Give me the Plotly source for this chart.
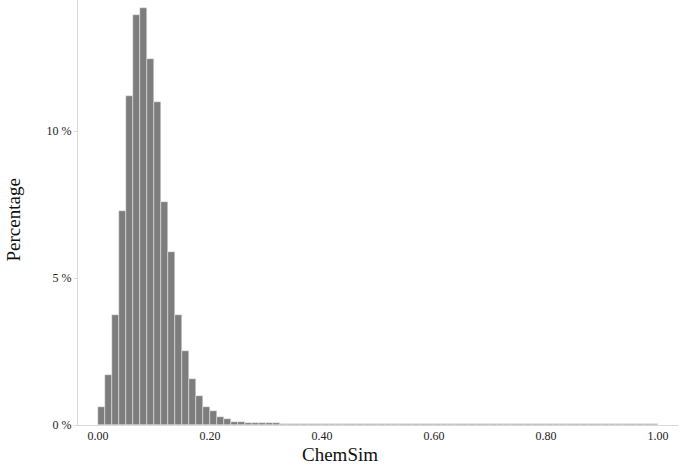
import plotly.graph_objects as go

bin_width = 0.0125
bin_left = [round(i * bin_width, 4) for i in range(80)]
percentages = [
    0.61, 1.70, 3.74, 7.28, 11.20, 13.95, 14.18, 12.45, 10.99, 7.58,
    5.88, 3.74, 2.52, 1.56, 0.99, 0.61, 0.47, 0.26, 0.19, 0.09,
    0.09, 0.07, 0.07, 0.06, 0.06, 0.06, 0.05, 0.05, 0.05, 0.05,
    0.05, 0.05, 0.05, 0.05, 0.05, 0.05, 0.05, 0.05, 0.05, 0.05,
    0.05, 0.05, 0.05, 0.05, 0.05, 0.05, 0.05, 0.05, 0.05, 0.05,
    0.05, 0.05, 0.05, 0.05, 0.05, 0.05, 0.05, 0.05, 0.05, 0.05,
    0.05, 0.05, 0.05, 0.05, 0.05, 0.05, 0.05, 0.05, 0.05, 0.05,
    0.05, 0.05, 0.05, 0.05, 0.05, 0.05, 0.05, 0.05, 0.05, 0.05,
]
x_tick_vals = [0.0, 0.2, 0.4, 0.6, 0.8, 1.0]
x_tick_text = ["0.00", "0.20", "0.40", "0.60", "0.80", "1.00"]
y_tick_vals = [0, 5, 10]
y_tick_text = ["0 %", "5 %", "10 %"]

font_family = "Liberation Serif, Times New Roman, serif"

fig = go.Figure(
    go.Bar(
        x=[b + bin_width / 2 for b in bin_left],
        y=percentages,
        width=bin_width,
        marker=dict(color="#7d7d7d", line=dict(color="#f0f0f0", width=0.5)),
        hoverinfo="skip",
    )
)

fig.update_layout(
    width=680,
    height=465,
    margin=dict(l=78, r=2, t=0, b=40),
    paper_bgcolor="white",
    plot_bgcolor="white",
    showlegend=False,
    bargap=0,
    font=dict(family=font_family, color="#222222", size=12),
    xaxis=dict(
        range=[-0.0357, 1.0357],
        tickvals=x_tick_vals,
        ticktext=x_tick_text,
        showgrid=False,
        zeroline=False,
        showline=True,
        linecolor="#d9d9d9",
        linewidth=1,
        ticks="",
        automargin=False,
        tickfont=dict(size=12, family=font_family, color="#222222"),
    ),
    yaxis=dict(
        range=[0, 14.46],
        tickvals=y_tick_vals,
        ticktext=y_tick_text,
        showgrid=False,
        zeroline=False,
        showline=True,
        linecolor="#d9d9d9",
        linewidth=1,
        ticks="outside",
        ticklen=3,
        tickcolor="#d9d9d9",
        automargin=False,
        tickfont=dict(size=12, family=font_family, color="#222222"),
    ),
    annotations=[
        dict(
            text="ChemSim",
            xref="paper", yref="paper",
            x=(340 - 78) / 600, y=-(454 - 425) / 425,
            xanchor="center", yanchor="middle",
            showarrow=False,
            font=dict(size=19, family=font_family, color="#111111"),
        ),
        dict(
            text="Percentage",
            xref="paper", yref="paper",
            x=-(78 - 1) / 600, y=(425 - 220) / 425,
            xanchor="left", yanchor="middle",
            textangle=-90,
            showarrow=False,
            font=dict(size=19, family=font_family, color="#111111"),
        ),
    ],
)

fig.write_html(
    "out.html",
    config={"displayModeBar": False},
    post_script="document.body.style.margin='0px';document.body.style.overflow='hidden';",
)
